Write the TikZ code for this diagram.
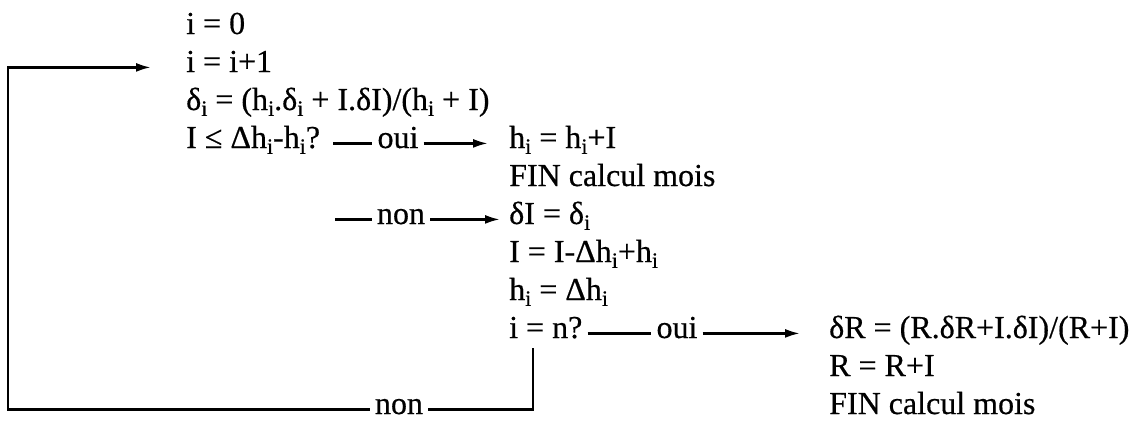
\documentclass[tikz,border=0pt]{standalone}
\usepackage{fontspec}
\setmainfont{Liberation Serif}[FakeBold=0.5]
\usetikzlibrary{arrows.meta}
\newcommand{\subi}{\raisebox{-.4ex}{\fontsize{11}{11}\selectfont i}}

\begin{document}
\begin{tikzpicture}[x=.5pt,y=-.5pt,line width=1.2pt,
  txt/.style={anchor=base west,inner sep=0pt,font=\fontsize{16}{18}\selectfont},
  lab/.style={anchor=base,inner xsep=2pt,inner ysep=0pt,font=\fontsize{16}{18}\selectfont},
  arr/.style={-{Latex[length=7.5pt,width=4.5pt]}}]
\useasboundingbox(0,0)rectangle(1138,423);
\node[txt](i0)at(185,34){i = 0};
\node[txt](inc)at(185,72){i = i+1};
\node[txt](del)at(185,110){δ\subi{} = (h\subi.δ\subi{} + I.δI)/(h\subi{} + I)};
\node[txt](cond)at(185,148){I ≤ Δh\subi-h\subi?};
\node[lab](oui1)at(398,148){oui};
\node[txt](upd)at(508,148){h\subi{} = h\subi+I};
\node[txt](fin1)at(508,186){FIN calcul mois};
\node[lab](non1)at(401,224){non};
\node[txt](dI)at(508,224){δI = δ\subi};
\node[txt](nI)at(508,262){I = I-Δh\subi+h\subi};
\node[txt](hD)at(508,300){h\subi{} = Δh\subi};
\node[txt](test)at(508,338){i = n?};
\node[lab](oui2)at(677,338){oui};
\node[txt](dR)at(828,338){δR = (R.δR+I.δI)/(R+I)};
\node[txt](RR)at(828,376){R = R+I};
\node[txt](fin2)at(828,414){FIN calcul mois};
\node[lab](non2)at(399,414){non};
\coordinate(nb)at(335,0);\coordinate(drop)at(533,348);\coordinate(back)at(8,0);
\draw[shorten <=6pt](cond.mid east)--(oui1.mid west);\draw[arr,shorten >=10pt](oui1.mid east)--(upd.mid west);
\draw(nb|-non1.mid)--(non1.mid west);\draw[arr,shorten >=4pt](non1.mid east)--(dI.mid west);
\draw[shorten <=2pt](test.mid east)--(oui2.mid west);\draw[arr,shorten >=14pt](oui2.mid east)--(dR.mid west);
\draw(drop)|-(non2.mid east);\draw[arr,shorten >=17pt](non2.mid west)-|(back|-inc.mid)--(inc.mid west);
\end{tikzpicture}
\end{document}
